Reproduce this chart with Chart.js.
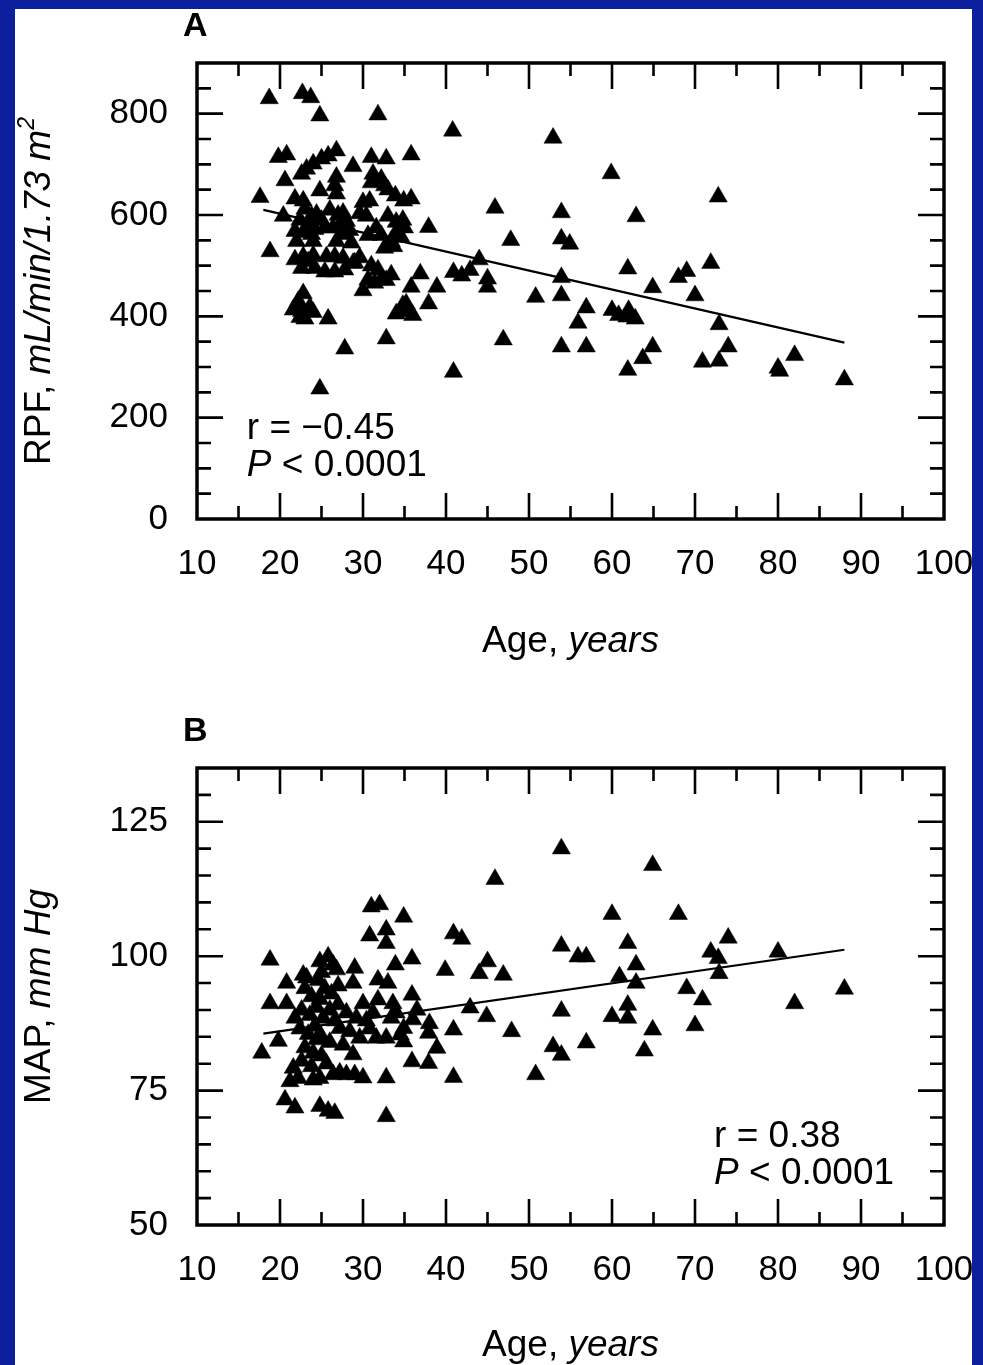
<!DOCTYPE html>
<html>
<head>
<meta charset="utf-8">
<script src="https://cdn.jsdelivr.net/npm/chart.js@4.4.1/dist/chart.umd.min.js"></script>
<style>
  html, body { margin: 0; padding: 0; }
  body { width: 983px; height: 1365px; background: #0c1f9c; overflow: hidden; position: relative; }
  #sheet { position: absolute; left: 15px; top: 9px; width: 957px; height: 1356px; background: #fff; overflow: hidden; }
  .panel { position: absolute; left: -15px; width: 983px; }
  #wrapA { top: -9px; height: 690px; }
  #wrapB { top: 681px; height: 675px; }
</style>
</head>
<body>
<div id="sheet">
  <div class="panel" id="wrapA"><canvas id="chartA" width="983" height="690"></canvas></div>
  <div class="panel" id="wrapB"><canvas id="chartB" width="983" height="675"></canvas></div>
</div>
<script>
// Panel A: renal plasma flow vs age
const ageA = [
  18.7, 22.7, 23.7, 24.8, 31.8, 40.8, 52.9, 59.9, 72.8, 62.9, 53.9, 45.9, 47.8, 53.9, 54.9, 37.9, 35.8,
  19.8, 20.8, 20.6, 26.8, 25.8, 25.0, 24.0, 23.2, 22.6, 28.8, 31.0, 32.8, 31.2, 32.2, 31.0, 32.6, 33.0,
  33.9, 34.9, 35.8, 26.8, 26.6, 26.8, 24.8, 17.6, 21.8, 22.8, 30.0, 30.8, 29.6, 30.4, 20.4, 18.8,
  23.0, 23.8, 24.4, 25.0, 22.4, 23.4, 24.2, 21.8, 22.8, 23.8, 25.4, 22.0, 24.0,
  26.0, 27.0, 27.6, 28.0, 27.2, 28.4, 27.6, 26.4, 26.8, 28.6,
  33.0, 34.0, 34.8, 35.0, 34.0, 34.6, 33.4, 32.6, 33.7, 31.6, 32.2, 30.6,
  21.8, 22.8, 24.0, 25.6, 26.6, 27.6, 28.8, 29.6, 22.6, 24.2, 25.4, 26.6, 27.8, 29.0, 23.4,
  31.0, 31.8, 33.4, 30.6, 31.4, 32.2, 30.0, 32.8,
  22.8, 22.2, 21.6, 22.6, 23.6, 23.0, 22.4, 24.0, 25.8, 22.0,
  34.0, 35.2, 36.0, 34.8, 35.6, 37.9, 35.8, 36.9, 38.9, 35.2,
  40.9, 41.9, 42.9, 44.0, 45.0, 45.0, 50.8, 53.9, 53.9,
  27.8, 32.8, 46.9, 53.9, 24.8, 40.9, 56.9,
  61.9, 71.9, 68.0, 69.0, 64.9, 70.0, 56.9, 55.9, 60.0, 60.8, 62.0, 62.8, 61.8, 72.9,
  64.9, 63.7, 61.9, 70.9, 72.9, 74.0, 80.0, 80.2, 82.0, 88.0
];
const rpfA = [
  830, 840, 832, 796, 798, 766, 752, 682, 636, 597, 605, 614, 550, 553, 543, 576, 719,
  714, 719, 668, 727, 717, 711, 701, 691, 681, 696, 714, 711, 681, 671, 664, 658, 650,
  638, 628, 632, 675, 658, 642, 648, 635, 632, 628, 625, 628, 603, 598, 598, 528,
  612, 598, 602, 590, 590, 580, 572, 568, 566, 562, 575, 548, 548,
  610, 600, 604, 588, 580, 570, 562, 575, 548, 545,
  598, 586, 590, 575, 566, 556, 548, 535, 538, 575, 560, 560,
  512, 518, 520, 518, 518, 515, 505, 516, 495, 495, 488, 488, 492, 506, 508,
  500, 492, 482, 472, 466, 472, 451, 471,
  445, 430, 413, 410, 418, 395, 398, 408, 395, 422,
  405, 410, 402, 422, 410, 425, 458, 484, 458, 425,
  487, 480, 491, 512, 474, 458, 438, 477, 441,
  336, 356, 354, 340, 257, 290, 340,
  494, 505, 477, 489, 457, 441, 417, 387, 412, 402, 412, 395, 399, 384,
  340, 317, 294, 310, 312, 340, 298, 292, 323, 275
];
const fitAgeA = [18, 88];
const fitRpfA = [610, 348];

// Panel B: mean arterial pressure vs age
const ageB = [
  53.9, 45.9, 64.9, 31.0, 32.0, 34.9, 60.0, 68.0, 30.8, 32.8, 32.8, 40.9, 41.9, 53.9, 55.9, 56.9,
  61.9, 62.9, 62.9, 60.9, 71.9, 72.8, 72.9, 74.0, 80.0, 69.0, 70.9, 82.0, 88.0, 53.9, 60.0, 61.9,
  61.9, 64.9, 70.0, 52.9, 53.9, 56.9, 63.9, 50.8, 47.9, 40.9, 40.9, 42.9, 44.9, 44.0, 45.0, 46.9,
  39.9, 35.9, 33.9, 35.9, 18.8, 24.8, 25.8, 26.4, 26.8, 29.0, 22.8, 20.8, 28.8, 31.8, 33.0,
  18.8, 20.8, 30.0, 31.8, 33.6, 17.8, 19.8, 36.0, 34.9, 37.9, 34.9, 38.9, 35.9, 37.9, 34.5,
  27.2, 28.4, 29.6, 31.6, 32.8, 28.8, 26.4, 27.2, 28.0, 29.0, 30.0, 32.8,
  21.6, 21.2, 22.2, 24.0, 24.8, 20.6, 21.8, 24.8, 25.8, 26.6, 32.8,
  23.0, 23.8, 24.6, 25.4, 26.2, 27.0, 22.6, 23.6, 24.4, 25.2, 26.0, 27.0, 22.4, 23.4, 24.2,
  25.0, 26.0, 23.0, 24.0, 25.0, 22.6, 23.8, 25.6, 24.4, 28.0, 29.2, 30.4, 31.2, 33.4, 34.0,
  30.8, 27.6, 26.6, 24.8, 23.2, 25.0, 21.8, 36.5, 38.0
];
const mapB = [
  120.0, 114.3, 116.9, 109.2, 109.6, 107.3, 107.8, 107.8, 103.8, 104.9, 102.4, 104.2, 103.2, 101.9, 99.9, 99.9,
  102.4, 98.4, 95.0, 96.2, 100.8, 99.6, 96.8, 103.4, 100.8, 94.0, 91.9, 91.2, 93.9, 89.8, 88.8, 90.9,
  88.5, 86.3, 87.1, 83.2, 81.6, 83.9, 82.4, 78.0, 86.0, 86.3, 77.5, 90.4, 88.8, 96.8, 99.0, 96.5,
  97.4, 99.5, 98.4, 92.8, 99.3, 99.0, 99.9, 98.4, 97.5, 97.8, 96.5, 95.0, 95.0, 95.6, 95.0,
  91.2, 91.2, 91.2, 91.9, 91.2, 82.0, 84.2, 88.2, 86.6, 85.7, 84.1, 82.9, 80.4, 80.1, 85.4,
  86.6, 86.0, 84.8, 84.8, 84.8, 81.7, 78.0, 78.3, 78.0, 78.0, 77.4, 77.4,
  79.2, 76.7, 77.3, 77.0, 77.3, 73.3, 71.8, 72.1, 71.2, 70.8, 70.2,
  94.0, 92.5, 95.5, 94.0, 93.0, 94.5, 90.0, 89.0, 90.5, 88.5, 90.0, 91.0, 86.5, 85.5, 87.0,
  85.0, 84.0, 83.0, 82.0, 81.5, 80.5, 79.5, 80.0, 84.5, 89.5, 88.5, 88.0, 89.5, 88.5, 89.5,
  86.5, 83.5, 88.0, 92.0, 96.0, 97.0, 88.5, 90.0, 87.5
];
const fitAgeB = [18, 88];
const fitMapB = [85.6, 101.2];

const ageTicks = [10, 20, 30, 40, 50, 60, 70, 80, 90, 100];
const rpfTicks = [0, 200, 400, 600, 800];
const mapTicks = [50, 75, 100, 125];

Chart.defaults.font.family = '"Liberation Sans", Arial, Helvetica, sans-serif';
Chart.defaults.font.size = 35;
Chart.defaults.color = '#000';

const FONT = '"Liberation Sans", Arial, Helvetica, sans-serif';

function toPoints(xs, ys) {
  return xs.map((v, i) => ({ x: v, y: ys[i] }));
}

// draws a run of text pieces (some italic / superscript) starting at x
function drawRuns(ctx, runs, x, y, size, align) {
  const fontFor = r => (r.italic ? 'italic ' : '') + (r.bold ? 'bold ' : '') +
    Math.round(r.sup ? size * 0.62 : size) + 'px ' + FONT;
  let total = 0;
  runs.forEach(r => { ctx.font = fontFor(r); total += ctx.measureText(r.text).width; });
  let cx = align === 'center' ? x - total / 2 : x;
  runs.forEach(r => {
    ctx.font = fontFor(r);
    ctx.fillText(r.text, cx, r.sup ? y - size * 0.42 : y);
    cx += ctx.measureText(r.text).width;
  });
}

// inward ticks on all four sides plus the box frame
const frameTicks = {
  id: 'frameTicks',
  afterDatasetsDraw(chart, args, o) {
    const { ctx, chartArea: a, scales: { x, y } } = chart;
    ctx.save();
    ctx.strokeStyle = '#000';
    ctx.lineWidth = 2.6;
    for (let v = x.min + o.xMinor; v < x.max - 1e-6; v += o.xMinor) {
      const px = x.getPixelForValue(v);
      const len = Math.abs(v % o.xMajor) < 1e-6 ? 26 : 13;
      ctx.beginPath();
      ctx.moveTo(px, a.bottom); ctx.lineTo(px, a.bottom - len);
      ctx.moveTo(px, a.top); ctx.lineTo(px, a.top + len);
      ctx.stroke();
    }
    for (let v = y.min + o.yMinor; v < y.max - 1e-6; v += o.yMinor) {
      const py = y.getPixelForValue(v);
      const len = Math.abs(v % o.yMajor) < 1e-6 ? 26 : 14;
      ctx.beginPath();
      ctx.moveTo(a.left, py); ctx.lineTo(a.left + len, py);
      ctx.moveTo(a.right, py); ctx.lineTo(a.right - len, py);
      ctx.stroke();
    }
    ctx.lineWidth = 3.5;
    ctx.strokeRect(a.left, a.top, a.right - a.left, a.bottom - a.top);
    ctx.restore();
  }
};

// panel letter, axis titles and r / P annotation
const labels = {
  id: 'labels',
  afterDraw(chart, args, o) {
    const { ctx, chartArea: a, scales: { x, y } } = chart;
    ctx.save();
    ctx.fillStyle = '#000';
    ctx.textBaseline = 'alphabetic';
    ctx.textAlign = 'left';
    drawRuns(ctx, [{ text: o.letter, bold: true }], a.left - 14, a.top - 27, 34, 'left');
    drawRuns(ctx, [{ text: 'Age, ' }, { text: 'years', italic: true }],
      (a.left + a.right) / 2, a.bottom + o.xTitleGap, 37, 'center');
    ctx.save();
    ctx.translate(50, (a.top + a.bottom) / 2 + o.yTitleShift);
    ctx.rotate(-Math.PI / 2);
    drawRuns(ctx, o.yTitle, 0, 0, 37, 'center');
    ctx.restore();
    const nx = x.getPixelForValue(o.noteAt[0]);
    const ny = y.getPixelForValue(o.noteAt[1]);
    drawRuns(ctx, [{ text: o.rText }], nx, ny, 37, 'left');
    drawRuns(ctx, [{ text: 'P', italic: true }, { text: ' < 0.0001' }], nx, ny + 37, 37, 'left');
    ctx.restore();
  }
};

function makeChart(id, pts, fit, cfg) {
  return new Chart(document.getElementById(id).getContext('2d'), {
    type: 'scatter',
    data: {
      datasets: [
        {
          data: pts, pointStyle: 'triangle', pointRadius: 10.5,
          backgroundColor: '#000', borderColor: '#000', borderWidth: 0.5
        },
        {
          type: 'line', data: fit, borderColor: '#000', borderWidth: 2.2,
          pointRadius: 0, fill: false
        }
      ]
    },
    options: {
      responsive: false, animation: false, events: [],
      layout: { padding: { top: cfg.top, right: 39, left: 0, bottom: 0 } },
      plugins: {
        legend: { display: false }, tooltip: { enabled: false },
        frameTicks: cfg.ticks, labels: cfg.labels
      },
      scales: {
        x: {
          type: 'linear', min: 10, max: 100,
          grid: { display: false, drawTicks: false }, border: { display: false },
          afterBuildTicks: s => { s.ticks = ageTicks.map(v => ({ value: v })); },
          ticks: { padding: 24, maxRotation: 0, autoSkip: false },
          afterFit: s => { s.height = cfg.xHeight; s.paddingLeft = 0; s.paddingRight = 0; }
        },
        y: {
          type: 'linear', min: cfg.yMin, max: cfg.yMax,
          grid: { display: false, drawTicks: false }, border: { display: false },
          afterBuildTicks: s => { s.ticks = cfg.yTicks.map(v => ({ value: v })); },
          ticks: { padding: 29, autoSkip: false },
          afterFit: s => { s.width = 197; s.paddingTop = 0; s.paddingBottom = 0; }
        }
      }
    },
    plugins: [frameTicks, labels]
  });
}

makeChart('chartA', toPoints(ageA, rpfA), toPoints(fitAgeA, fitRpfA), {
  top: 63, xHeight: 171, yMin: 0, yMax: 900, yTicks: rpfTicks,
  ticks: { xMinor: 5, xMajor: 10, yMinor: 50, yMajor: 200 },
  labels: {
    letter: 'A', xTitleGap: 133, yTitleShift: 0, noteAt: [16.0, 157], rText: 'r = \u22120.45',
    yTitle: [{ text: 'RPF, ' }, { text: 'mL/min/1.73 m', italic: true }, { text: '2', italic: true, sup: true }]
  }
});

makeChart('chartB', toPoints(ageB, mapB), toPoints(fitAgeB, fitMapB), {
  top: 78, xHeight: 140, yMin: 50, yMax: 135, yTicks: mapTicks,
  ticks: { xMinor: 5, xMajor: 10, yMinor: 5, yMajor: 25 },
  labels: {
    letter: 'B', xTitleGap: 131, yTitleShift: 0, noteAt: [72.3, 64.6], rText: 'r = 0.38',
    yTitle: [{ text: 'MAP, ' }, { text: 'mm Hg', italic: true }]
  }
});
</script>
</body>
</html>
